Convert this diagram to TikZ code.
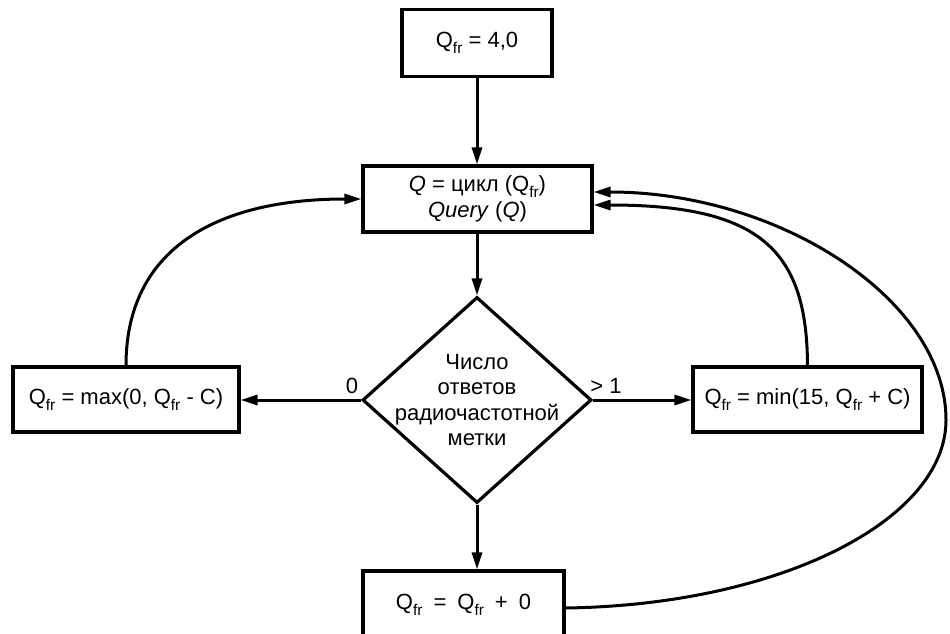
\documentclass[tikz,border=0pt]{standalone}
\usepackage{fontspec}
\setmainfont{Liberation Sans}
\usetikzlibrary{arrows.meta,shapes.geometric}
\newcommand{\Qfr}{Q\lower5.5pt\hbox{\fontsize{15.5}{15.5}\selectfont fr}}

\begin{document}
\begin{tikzpicture}[
    x=1pt, y=-1pt,
    every node/.style={font=\fontsize{22}{25.5}\selectfont, inner sep=0pt},
    stepbox/.style={draw, line width=3.2pt, minimum width=#1, minimum height=66pt, align=center},
    decision/.style={draw, shape=diamond, line width=3.2pt, minimum width=229pt, minimum height=206pt},
    arr/.style={line width=3pt, -{Triangle[length=17pt,width=10pt]}},
]
\fill[white] (0,0) rectangle (950,634);
\useasboundingbox (0,0) rectangle (950,634);

\node[stepbox=150pt, minimum height=67pt] (start) at (477,43) {\Qfr\ = 4,0};
\node[stepbox=229pt] (query) at (477.5,199) {\textit{Q} = цикл (\Qfr)\\\textit{Query} (\textit{Q})};
\node[decision] (dec) at (477,400) {};
\node[align=center] (dectext) at (dec.center) {Число\\ответов\\радиочастотной\\метки};
\node[stepbox=226pt, minimum height=65pt] (minus) at (126,399.5) {\Qfr\ = max(0, \Qfr\ - C)};
\node[stepbox=229pt, minimum height=65pt] (plus) at (807.5,399.5) {\Qfr\ = min(15, \Qfr\ + C)};
\node[stepbox=201pt, minimum height=68pt] (keep) at (463.5,605) {\Qfr\enspace=\enspace\Qfr\enspace+\enspace0};
\node (lblzero) at (352,386) {0};
\node (lblmore) at (606,386) {> 1};

% straight connectors
\draw[arr] (start.south) -- (query.north -| start.south);
\draw[arr] (query.south -| dec.north) -- (dec.north);
\draw[arr] (dec.west) -- (minus.east |- dec.west);
\draw[arr] (dec.east) -- (plus.west |- dec.east);
\draw[arr] (dec.south) -- (keep.north -| dec.south);

% loops back to the query box
\coordinate (inleft) at (query.west |- 0,199);
\coordinate (inone) at (query.east |- 0,192);
\coordinate (intwo) at (query.east |- 0,205);
\draw[arr] (minus.north) .. controls (126,250) and (215,199) .. (inleft);
\draw[arr] (plus.north) .. controls (807,250) and (760,205) .. (intwo);
\draw[arr] (keep.east |- 0,608) .. controls (780,605) and (946,520) .. (946,420)
    .. controls (946,300) and (780,192) .. (inone);
\end{tikzpicture}
\end{document}
